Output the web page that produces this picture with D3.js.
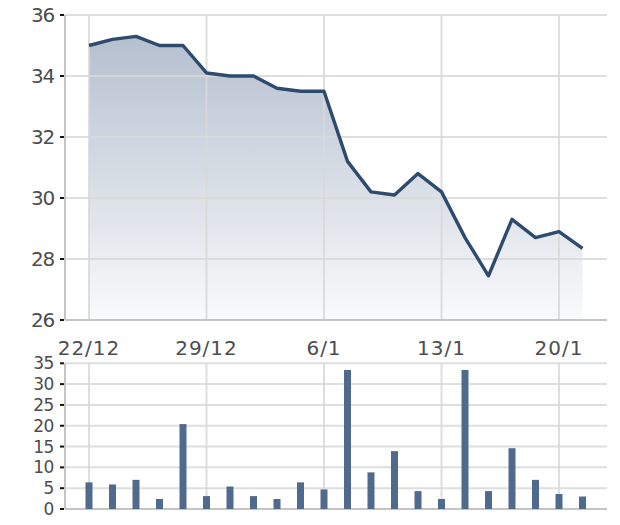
<!DOCTYPE html>
<html><head><meta charset="utf-8">
<script src="https://cdn.jsdelivr.net/npm/d3@7"></script>
<style>body{margin:0;background:#fff}svg{display:block}</style>
</head><body>
<svg id="c" width="620" height="525"></svg>
<script>
const dates = ["22/12","23/12","24/12","25/12","26/12","29/12","30/12","31/12","2/1","5/1","6/1","7/1","8/1","9/1","12/1","13/1","14/1","15/1","16/1","19/1","20/1","21/1"];
const prices = [35.0,35.2,35.3,35.0,35.0,34.1,34.0,34.0,33.6,33.5,33.5,31.2,30.2,30.1,30.8,30.2,28.7,27.45,29.3,28.7,28.9,28.35];
const volumes = [6.4,5.9,7.0,2.4,20.4,3.1,5.4,3.1,2.4,6.4,4.7,33.4,8.8,13.9,4.3,2.4,33.4,4.3,14.6,7.0,3.6,3.0];
const xTickIdx = [0,5,10,15,20];
const xTickLabels = ["22/12","29/12","6/1","13/1","20/1"];
const priceTicks = [26,28,30,32,34,36];
const volTicks = [0,5,10,15,20,25,30,35];

const svg = d3.select("#c");
const plotL = 65, plotR = 607;
const x = d3.scaleLinear().domain([0,21]).range([89,582.5]);
const yP = d3.scaleLinear().domain([26,36]).range([320,15]);
const yV = d3.scaleLinear().domain([0,35]).range([509,363.3]);

const gridCol = "#d9d9d9", axisCol = "#c4c4c4", txtCol = "#4d4d4d";

const defs = svg.append("defs");
const gr = defs.append("linearGradient").attr("id","ag").attr("gradientUnits","userSpaceOnUse")
  .attr("x1",0).attr("y1",yP(35.3)).attr("x2",0).attr("y2",yP(26));
gr.append("stop").attr("offset",0).attr("stop-color","#b5c0cf");
gr.append("stop").attr("offset",1).attr("stop-color","#f9fafb");

svg.append("path").datum(prices)
  .attr("d", d3.area().x((d,i)=>x(i)).y0(yP(26)).y1(d=>yP(d)))
  .attr("fill","url(#ag)");

function grid(yScale, ticks, yTop, yBot, fs, ls){
  const g = svg.append("g");
  g.selectAll(".h").data(ticks).join("line")
    .attr("x1",plotL).attr("x2",plotR).attr("y1",d=>yScale(d)).attr("y2",d=>yScale(d))
    .attr("stroke",gridCol).attr("stroke-width",2).attr("opacity",0.85);
  g.selectAll(".v").data(xTickIdx).join("line")
    .attr("x1",d=>x(d)).attr("x2",d=>x(d)).attr("y1",yTop).attr("y2",yBot)
    .attr("stroke",gridCol).attr("stroke-width",2).attr("opacity",0.85);
  g.append("line").attr("x1",plotL).attr("x2",plotL).attr("y1",yTop).attr("y2",yBot).attr("stroke",axisCol).attr("stroke-width",2);
  g.append("line").attr("x1",plotL).attr("x2",plotR).attr("y1",yBot).attr("y2",yBot).attr("stroke",axisCol).attr("stroke-width",2);
  g.selectAll(".tk").data(ticks).join("line")
    .attr("x1",60).attr("x2",64).attr("y1",d=>yScale(d)).attr("y2",d=>yScale(d))
    .attr("stroke","#111").attr("stroke-width",2);
  g.selectAll(".lb").data(ticks).join("text")
    .attr("x",54).attr("y",d=>yScale(d)).attr("dy","0.36em")
    .attr("text-anchor","end").attr("fill",txtCol)
    .attr("font-family","DejaVu Sans").attr("font-size",fs).attr("letter-spacing",ls)
    .text(d=>d);
}
grid(yP, priceTicks, yP(36), yP(26), 20, "-1.2px");
grid(yV, volTicks, yV(35), yV(0), 17, "-0.4px");

svg.append("path").datum(prices)
  .attr("d", d3.line().x((d,i)=>x(i)).y(d=>yP(d)))
  .attr("fill","none").attr("stroke","#2e4b6e").attr("stroke-width",3.4).attr("stroke-linejoin","round");

svg.append("g").selectAll("rect").data(volumes).join("rect")
  .attr("x",(d,i)=>x(i)-3.5).attr("width",7)
  .attr("y",d=>yV(d)).attr("height",d=>yV(0)-yV(d))
  .attr("fill","#4f6a8d");

svg.append("g").selectAll("text").data(xTickIdx).join("text")
  .attr("x",d=>x(d)).attr("y",355)
  .attr("text-anchor","middle").attr("fill",txtCol)
  .attr("font-family","DejaVu Sans").attr("font-size",20).attr("letter-spacing","1px")
  .text((d,i)=>xTickLabels[i]);
</script>
</body></html>
